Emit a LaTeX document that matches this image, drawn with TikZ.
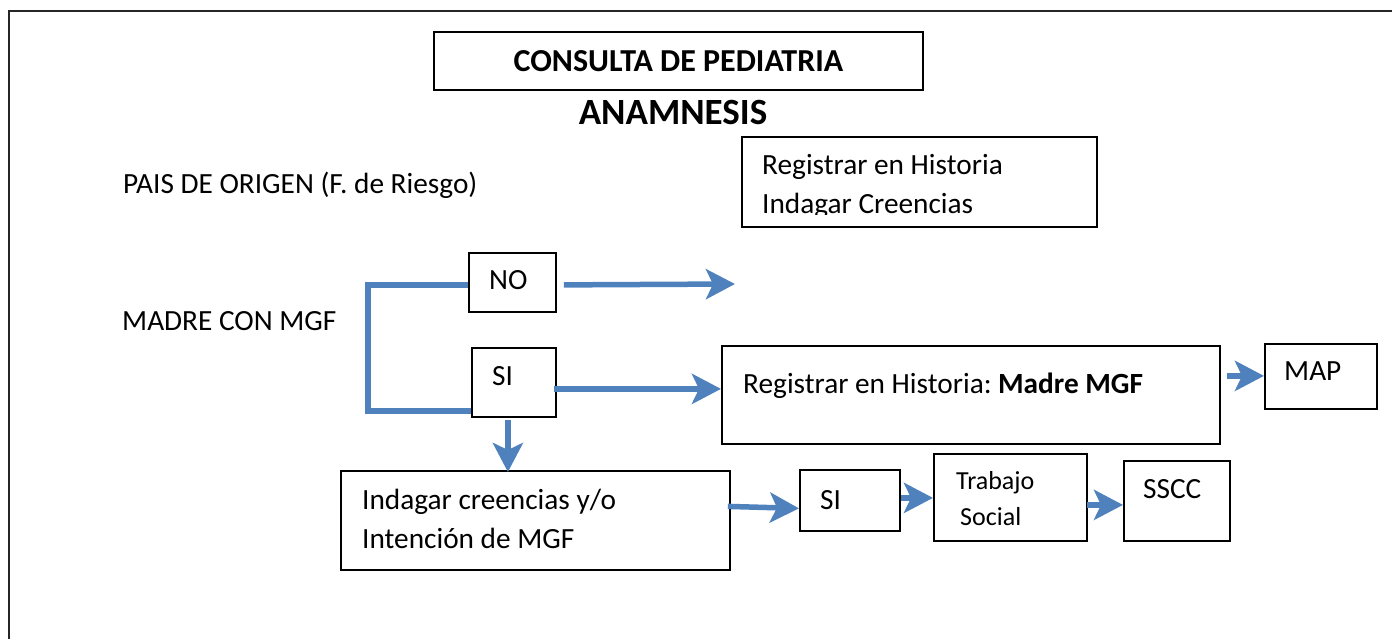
\documentclass[tikz,border=0pt]{standalone}
\usepackage{fontspec}
\setmainfont{Carlito}
\usetikzlibrary{arrows.meta,calc}
\definecolor{wblue}{RGB}{79,129,189}
\tikzset{
  box/.style={draw=black, line width=1.8pt, inner sep=0pt, anchor=north west},
  conn/.style={draw=wblue, line width=5.5pt},
  arr/.style={conn, -{Stealth[length=29pt,width=30pt,inset=7pt]}},
  txt/.style={anchor=base west, inner sep=0pt, font=\fontsize{29.3}{35}\selectfont},
  stxt/.style={anchor=base west, inner sep=0pt, font=\fontsize{26}{31}\selectfont},
}
\begin{document}
\begin{tikzpicture}[x=1pt,y=-1pt]
\useasboundingbox (0,0) rectangle (1392,639);
% outer frame (only left and top edges are visible)
\draw[line width=2.5pt, black!85] (9,650) -- (9,11) -- (1400,11);

% title
\node[box, minimum width=489pt, minimum height=58pt, font=\fontsize{32}{38}\bfseries] (title) at (433,31) {CONSULTA DE PEDIATRIA};
\node[anchor=base, inner sep=0pt, font=\fontsize{37}{44}\bfseries] (anam) at (673,125) {ANAMNESIS};

% left labels
\node[txt] (pais) at (123,194) {PAIS DE ORIGEN (F. de Riesgo)};
\node[txt] (madre) at (122,330) {MADRE CON MGF};

% top right box
\node[box, minimum width=355pt, minimum height=90pt] (reg1) at (741,136) {};
\node[txt] (reg1a) at (762,175) {Registrar en Historia};
\begin{scope}
  \clip (741,136) rectangle (1096,215);
  \node[txt] (reg1b) at (762,214) {Indagar Creencias};
\end{scope}

% NO / SI
\node[box, minimum width=87pt, minimum height=59pt] (no) at (468,252) {};
\node[txt] (notxt) at (489,289) {NO};
\node[box, minimum width=84pt, minimum height=69pt] (si) at (471,347) {};
\node[txt] (sitxt) at (492,385) {SI};

% Registrar madre MGF
\node[box, minimum width=498pt, minimum height=98pt] (reg2) at (721,345) {};
\node[txt] (reg2txt) at (743,393) {Registrar en Historia:\hspace{-0.08em} \textbf{Madre MGF}};
\node[box, minimum width=112pt, minimum height=65pt] (map) at (1264,343) {};
\node[txt] (maptxt) at (1284,380) {MAP};

% Indagar
\node[box, minimum width=389pt, minimum height=99pt] (ind) at (340,470) {};
\node[txt] (inda) at (362,509) {Indagar creencias y/o};
\node[txt] (indb) at (362,548) {Intención de MGF};

\node[box, minimum width=100pt, minimum height=61pt] (si2) at (799,469) {};
\node[txt] (si2txt) at (820,509) {SI};
\node[box, minimum width=153pt, minimum height=87pt] (trab) at (933,453) {};
\node[stxt] (traba) at (956,489) {Trabajo};
\node[stxt] (trabb) at (960,525) {Social};
\node[box, minimum width=106pt, minimum height=80pt] (sscc) at (1123,460) {};
\node[txt] (sscctxt) at (1143,498) {SSCC};

% connectors
\coordinate (noend) at (735,284);
\draw[conn] ([yshift=-2.5pt]no.west) -- ++(-100,0) |- ([yshift=-28.5pt]si.west);
\draw[arr] ([xshift=7pt,yshift=-2.5pt]no.east) -- (noend);
\draw[arr] ([xshift=-3pt,yshift=-6.5pt]si.east) -- ([yshift=6pt]reg2.west);
\draw[arr] ([xshift=6pt,yshift=19pt]reg2.east) -- ([yshift=0.5pt]map.west);
\draw[arr] ([xshift=-6pt,yshift=-2pt]si.south) -- ([xshift=-6pt,yshift=-2pt]si.south |- ind.north);
\draw[arr] ([xshift=-3pt,yshift=14pt]ind.east) -- ([yshift=-8pt]si2.west);
\draw[arr] ([yshift=2.5pt]si2.east) -- ([yshift=-0.5pt]trab.west);
\draw[arr] ([xshift=-1pt,yshift=-7.5pt]trab.east) -- ([yshift=-4pt]sscc.west);
\end{tikzpicture}
\end{document}
